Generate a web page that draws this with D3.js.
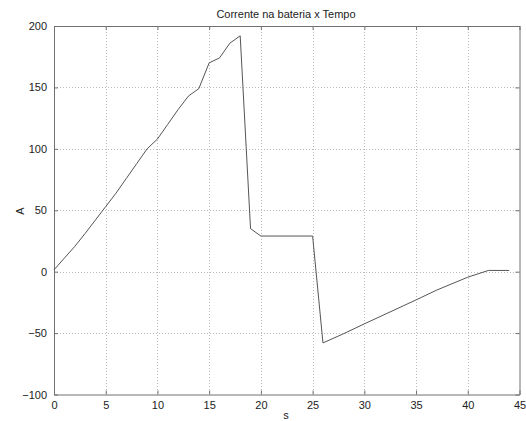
<!DOCTYPE html>
<html>
<head>
<meta charset="utf-8">
<script src="https://cdn.jsdelivr.net/npm/d3@7"></script>
<style>
  html, body { margin: 0; padding: 0; background: #fff; }
  svg { display: block; font-family: "Liberation Sans", Arial, sans-serif; }
</style>
</head>
<body>
<svg id="chart" width="526" height="421"></svg>
<script>
// Battery current over time
const timeS = [0, 1, 2, 3, 4, 5, 6, 7, 8, 9, 10, 11, 12, 13, 14, 15, 16, 17, 18,
               19, 20, 25, 26, 28, 30, 35, 37, 40, 42, 44];
const currentA = [1.5, 11, 20.5, 31, 42, 53, 64, 76, 88, 100, 108, 120, 132, 143, 149, 170, 174, 186, 192,
                  35, 29, 29, -58, -50.5, -42.5, -23, -15, -4.5, 1, 1];
const xTicks = [0, 5, 10, 15, 20, 25, 30, 35, 40, 45];
const yTicks = [-100, -50, 0, 50, 100, 150, 200];
const titleText = "Corrente na bateria x Tempo";
const xLabel = "s";
const yLabel = "A";

const svg = d3.select("#chart");
const plotLeft = 54, plotRight = 519.5, plotTop = 26, plotBottom = 394.5;

const x = d3.scaleLinear().domain([0, 45]).range([plotLeft, plotRight]);
const y = d3.scaleLinear().domain([-100, 200]).range([plotBottom, plotTop]);

// dotted grid
const grid = svg.append("g");
grid.selectAll(".gx").data(xTicks.slice(1, -1)).join("line")
  .attr("x1", d => Math.round(x(d)) + 0.5).attr("x2", d => Math.round(x(d)) + 0.5)
  .attr("y1", plotTop).attr("y2", plotBottom)
  .attr("stroke", "#bcbcbc").attr("stroke-width", 1).attr("stroke-dasharray", "1,2");
grid.selectAll(".gy").data(yTicks.slice(1, -1)).join("line")
  .attr("y1", d => Math.round(y(d)) + 0.5).attr("y2", d => Math.round(y(d)) + 0.5)
  .attr("x1", plotLeft).attr("x2", plotRight)
  .attr("stroke", "#bcbcbc").attr("stroke-width", 1).attr("stroke-dasharray", "1,2");

// axes with inward ticks on all sides
function styleAxis(g) {
  g.select(".domain").attr("stroke", "#707070");
  g.selectAll(".tick line").attr("stroke", "#707070");
  g.selectAll(".tick text").attr("fill", "#222").attr("font-size", "11px")
    .attr("font-family", "Liberation Sans, Arial, sans-serif");
}
const xAxisB = svg.append("g").attr("transform", `translate(0,${plotBottom})`)
  .call(d3.axisBottom(x).tickValues(xTicks).tickFormat(d3.format("d")).tickSizeInner(-4).tickSizeOuter(0).tickPadding(7));
styleAxis(xAxisB);
const xAxisT = svg.append("g").attr("transform", `translate(0,${plotTop})`)
  .call(d3.axisTop(x).tickValues(xTicks).tickFormat("").tickSizeInner(-4).tickSizeOuter(0));
styleAxis(xAxisT);
const yAxisL = svg.append("g").attr("transform", `translate(${plotLeft},0)`)
  .call(d3.axisLeft(y).tickValues(yTicks).tickFormat(d3.format("d")).tickSizeInner(-4).tickSizeOuter(0).tickPadding(7));
styleAxis(yAxisL);
const yAxisR = svg.append("g").attr("transform", `translate(${plotRight},0)`)
  .call(d3.axisRight(y).tickValues(yTicks).tickFormat("").tickSizeInner(-4).tickSizeOuter(0));
styleAxis(yAxisR);

// data line
const pts = timeS.map((t, i) => [t, currentA[i]]);
svg.append("path")
  .datum(pts)
  .attr("fill", "none")
  .attr("stroke", "#555")
  .attr("stroke-width", 1)
  .attr("d", d3.line().x(d => x(d[0])).y(d => y(d[1])));

// title and axis labels
svg.append("text").attr("x", 286).attr("y", 18).attr("text-anchor", "middle")
  .attr("font-size", "11px").attr("fill", "#222").text(titleText);
svg.append("text").attr("x", 286).attr("y", 419).attr("text-anchor", "middle")
  .attr("font-size", "11px").attr("fill", "#222").text(xLabel);
svg.append("text").attr("transform", "translate(24,211) rotate(-90)").attr("text-anchor", "middle")
  .attr("font-size", "11px").attr("fill", "#222").text(yLabel);
</script>
</body>
</html>
